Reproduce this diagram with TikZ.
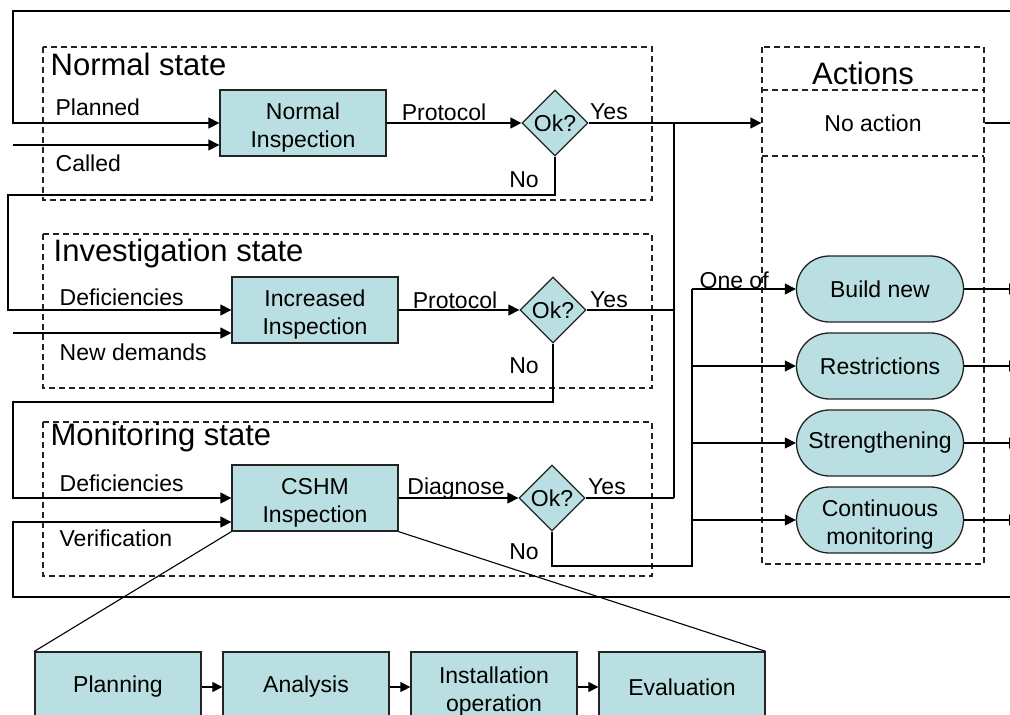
\documentclass[tikz,border=0pt]{standalone}
\usepackage{fontspec}
\setmainfont{Liberation Sans}
\usetikzlibrary{arrows.meta,shapes.geometric,calc}
\definecolor{boxfill}{RGB}{185,223,226}
\definecolor{edge}{RGB}{35,35,35}
\begin{document}
\begin{tikzpicture}[x=1pt,y=-1pt,
  line width=1.3pt,
  >={Triangle[length=11pt,width=11pt]},
  every node/.style={font=\fontsize{23}{28}\selectfont, inner sep=0pt},
  proc/.style={draw=edge, fill=boxfill, minimum width=166pt, minimum height=66pt, align=center},
  twoline/.style={text height=53pt, text depth=5pt},
  decis/.style={diamond, draw=edge, fill=boxfill, minimum width=66pt, minimum height=66pt, aspect=1},
  act/.style={draw=edge, fill=boxfill, rounded corners=33pt, minimum width=167pt, minimum height=66pt, align=center},
  region/.style={draw=edge, dash pattern=on 6pt off 4pt},
  title/.style={font=\fontsize{31}{35}\selectfont, anchor=west},
  lbl/.style={anchor=west},
  thickline/.style={line width=2.6pt},
  small/.style={>={Triangle[length=10pt,width=10pt]}}
]
\clip (0,0) rectangle (1010,715);

% regions
\draw[region] (43,47) rectangle (652,200);
\draw[region] (43,234) rectangle (652,388);
\draw[region] (43,422) rectangle (652,576);
\draw[region] (762,47) rectangle (984,564);
\draw[region] (762,90) -- (984,90);
\draw[region] (762,156) -- (984,156);

% titles
\node[title] (tn) at (50,64) {Normal state};
\node[title] (ti) at (53,253) {Investigation state};
\node[title] (tm) at (50,437) {Monitoring state};
\node[font=\fontsize{31}{35}\selectfont] (ta) at (863,73) {Actions};

% process nodes
\node[proc, twoline] (ni) at (303,123) {Normal\\Inspection};
\node[proc, twoline] (ii) at (315,310) {Increased\\Inspection};
\node[proc, twoline] (ci) at (315,498) {CSHM\\Inspection};
\node[decis] (d1) at (555,123) {Ok?};
\node[decis] (d2) at (553,310) {Ok?};
\node[decis] (d3) at (552,498) {Ok?};

% actions
\node[minimum width=222pt, minimum height=66pt] (na) at (873,123) {No action};
\node[act] (bn) at (880,289) {Build new};
\node[act] (rs) at (880,366) {Restrictions};
\node[act] (st) at (880,443) {Strengthening};
\node[act, twoline] (cm) at (880,520) {Continuous\\monitoring};

% bottom process
\node[proc, minimum height=70pt] (pl) at (118,687) {Planning};
\node[proc, minimum height=70pt] (an) at (306,687) {Analysis};
\node[proc, twoline, minimum height=70pt] (io) at (494,687) {Installation\\operation};
\node[proc, minimum height=70pt] (ev) at (682,687) {Evaluation};

% coordinates
\coordinate (topR) at (1012,11);
\coordinate (topL) at (13,11);
\coordinate (calS) at (13,145);
\coordinate (n1b) at (8,195);
\coordinate (ndS) at (13,333);
\coordinate (n2b) at (13,402);
\coordinate (vfR) at (1012,597);
\coordinate (vfL) at (13,597);
\coordinate (vfT) at (13,522);
\coordinate (yj) at (674,498);
\coordinate (n3b) at (692,566);
\coordinate (bt) at (692,289);
\coordinate (edgeR) at (1020,0);

% connectors
\draw[->] (topR) -- (topL) |- (ni.west);
\draw[->] (calS) -- (calS -| ni.west);
\draw[->] (ni.east) -- (d1.west);
\draw[->] (d1.east) -- (na.west);
\draw[->] (d1.south) |- (n1b) |- (ii.west);
\draw[->] (ndS) -- (ndS -| ii.west);
\draw[->] (ii.east) -- (d2.west);
\draw (d2.east) -- (d2.east -| yj);
\draw[->] (d2.south) |- (n2b) |- (ci.west);
\draw[->] (vfR) -- (vfL) -- (vfT) -- (vfT -| ci.west);
\draw[->] (ci.east) -- (d3.west);
\draw (d3.east) -- (yj);
\draw[line width=2pt] (yj) -- (yj |- na.west);
\draw[thickline] (d3.south) |- (n3b) -- (bt);
\draw[->] (bt) -- (bn.west);
\draw[->] (bt |- rs.west) -- (rs.west);
\draw[->] (bt |- st.west) -- (st.west);
\draw[->] (bt |- cm.west) -- (cm.west);
\draw (na.east) -- (na.east -| topR);
\draw[->] (bn.east) -- (bn.east -| edgeR);
\draw[->] (rs.east) -- (rs.east -| edgeR);
\draw[->] (st.east) -- (st.east -| edgeR);
\draw[->] (cm.east) -- (cm.east -| edgeR);
\draw[line width=1.1pt] (ci.south west) -- (pl.north west);
\draw[line width=1.1pt] (ci.south east) -- (ev.north east);
\draw[->, small] (pl) -- (an);
\draw[->, small] (an) -- (io);
\draw[->, small] (io) -- (ev);

% labels
\node[lbl] (lp) at (55,107) {Planned};
\node[lbl] (lc) at (55,163) {Called};
\node (lpr1) at (444,112) {Protocol};
\node (ly1) at (609,112) {Yes};
\node (ln1) at (524,180) {No};
\node[lbl] (ld2) at (59,297) {Deficiencies};
\node[lbl] (lnd) at (59,352) {New demands};
\node (lpr2) at (455,300) {Protocol};
\node (ly2) at (609,300) {Yes};
\node (ln2) at (524,366) {No};
\node[lbl] (ld3) at (59,483) {Deficiencies};
\node[lbl] (lv) at (59,538) {Verification};
\node (ldg) at (456,489) {Diagnose};
\node (ly3) at (607,487) {Yes};
\node (ln3) at (524,552) {No};
\node[anchor=base west] (oneof) at (699,288) {One of};
\end{tikzpicture}
\end{document}
